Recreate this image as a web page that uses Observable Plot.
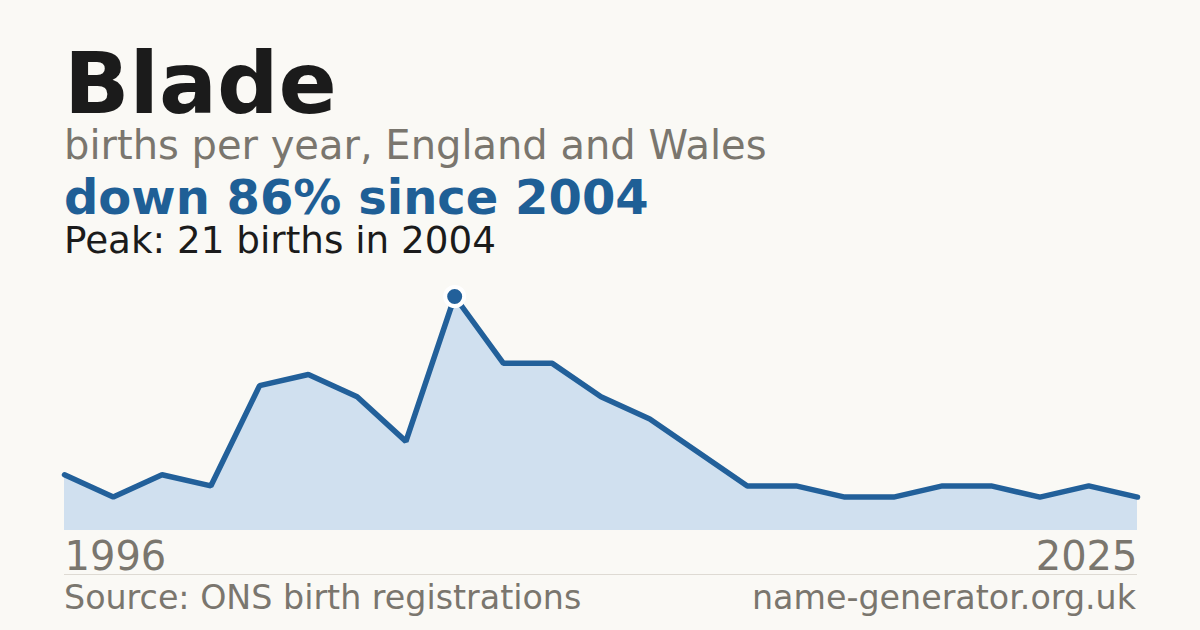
<!DOCTYPE html>
<html>
<head>
<meta charset="utf-8">
<script src="https://cdn.jsdelivr.net/npm/d3@7"></script>
<script src="https://cdn.jsdelivr.net/npm/@observablehq/plot@0.6"></script>
<style>
  html, body { margin: 0; padding: 0; background: #faf9f5; }
  #root { position: relative; width: 1200px; height: 630px; overflow: hidden; background: #faf9f5; font-family: "DejaVu Sans", sans-serif; }
  .t { position: absolute; left: 64px; white-space: nowrap; line-height: 0.9; }
  #title { font-size: 86px; font-weight: bold; color: #1b1b1b; top: 44.5px; }
  #subtitle { font-size: 40px; color: #7a766e; top: 127.2px; }
  #headline { font-size: 48px; font-weight: bold; color: #1f5f96; top: 175.8px; }
  #peak { font-size: 37.3px; color: #1b1b1b; top: 224.3px; }
  #chart { position: absolute; left: 0; top: 270px; }
  #rule { position: absolute; left: 64px; width: 1073px; top: 574px; height: 1px; background: #dedad3; }
  .src { font-size: 33.3px; color: #7a766e; top: 582.5px; }
  #srcR { left: auto; right: 64px; }
</style>
</head>
<body>
<div id="root">
  <div id="title" class="t"></div>
  <div id="subtitle" class="t"></div>
  <div id="headline" class="t"></div>
  <div id="peak" class="t"></div>
  <div id="chart"></div>
  <div id="rule"></div>
  <div id="srcL" class="t src"></div>
  <div id="srcR" class="t src"></div>
</div>
<script>
// ---- data ----
const nameLabel = "Blade";
const subtitleText = "births per year, England and Wales";
const years = [1996, 1997, 1998, 1999, 2000, 2001, 2002, 2003, 2004, 2005, 2006, 2007, 2008, 2009, 2011, 2013, 2015, 2016, 2018, 2020, 2022, 2024, 2025];
const births = [5, 3, 5, 4, 13, 14, 12, 8, 21, 15, 15, 12, 10, 7, 4, 4, 3, 3, 4, 4, 3, 4, 3];
const sourceText = "Source: ONS birth registrations";
const siteText = "name-generator.org.uk";

const data = years.map((y, i) => ({year: y, births: births[i]}));
const peakIdx = d3.maxIndex(births);
const peak = data[peakIdx];
const last = data[data.length - 1];
const pct = Math.round((1 - last.births / peak.births) * 100);

document.getElementById("title").textContent = nameLabel;
document.getElementById("subtitle").textContent = subtitleText;
document.getElementById("headline").textContent = `down ${pct}% since ${peak.year}`;
document.getElementById("peak").textContent = `Peak: ${peak.births} births in ${peak.year}`;
document.getElementById("srcL").textContent = sourceText;
document.getElementById("srcR").textContent = siteText;

const lineColor = "#22609a";
const chart = Plot.plot({
  width: 1200,
  height: 310,
  marginLeft: 64,
  marginRight: 63,
  marginTop: 26,
  marginBottom: 50,
  style: {background: "transparent", fontFamily: "DejaVu Sans, sans-serif", overflow: "visible"},
  x: {type: "point", domain: years, padding: 0, round: false, axis: null},
  y: {domain: [0, peak.births], axis: null},
  marks: [
    Plot.areaY(data, {x: "year", y: "births", fill: "#d0e0ef"}),
    Plot.lineY(data, {x: "year", y: "births", stroke: lineColor, strokeWidth: 5.5, strokeLinejoin: "miter"}),
    Plot.dot([peak], {x: "year", y: "births", r: 9.5, fill: lineColor, stroke: "#ffffff", strokeWidth: 4}),
    Plot.axisX([years[0]], {tickSize: 0, tickPadding: 11, fontSize: 40, fill: "#7a766e", textAnchor: "start", label: null, tickFormat: d => String(d)}),
    Plot.axisX([years[years.length - 1]], {tickSize: 0, tickPadding: 11, fontSize: 40, fill: "#7a766e", textAnchor: "end", label: null, tickFormat: d => String(d)})
  ]
});
document.getElementById("chart").appendChild(chart);
</script>
</body>
</html>
